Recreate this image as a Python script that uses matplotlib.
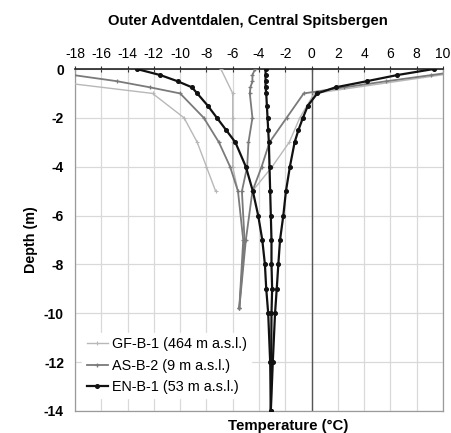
import matplotlib
matplotlib.use("Agg")
import matplotlib.pyplot as plt

plt.rcParams['font.family'] = ['Liberation Sans', 'DejaVu Sans']

# ---- data (temperature in °C, depth in m, negative down) ----
en_depth = [0, -0.25, -0.5, -0.75, -1.0, -1.5, -2.0, -2.5, -3.0, -4, -5, -6, -7, -8, -9, -10, -12, -14]
en_min = [-13.3, -11.5, -10.2, -9.1, -8.7, -7.9, -7.2, -6.5, -5.8, -5.0, -4.47, -4.06, -3.75, -3.55, -3.45, -3.3, -3.15, -3.1]
en_mean = [-3.5, -3.5, -3.5, -3.5, -3.45, -3.4, -3.35, -3.3, -3.25, -3.2, -3.15, -3.1, -3.05, -3.05, -3.0, -3.05, -3.07, -3.1]
en_max = [9.3, 6.5, 4.2, 1.83, 0.43, -0.28, -0.66, -1.0, -1.29, -1.65, -1.95, -2.15, -2.4, -2.53, -2.65, -2.78, -2.95, -3.1]

as_depth = [0, -0.25, -0.5, -0.75, -1.0, -2, -3, -4, -5, -7, -9.8]
as_min = [-21.2, -18.1, -14.8, -12.3, -10.0, -8.2, -7.05, -6.2, -5.6, -5.2, -5.5]
as_mean = [-4.3, -4.5, -4.5, -4.65, -4.7, -4.5, -4.8, -4.9, -5.3, -5.1, -5.5]
as_max = [12.5, 9.1, 5.7, 2.5, -0.6, -1.9, -3.2, -3.8, -4.5, -5.0, -5.5]

gf_depth = [0, -1, -2, -3, -4, -5]
gf_min = [-27.5, -12.1, -9.7, -8.7, -8.0, -7.3]
gf_mean = [-6.9, -6.0, -6.0, -6.0, -6.0, -5.6]
gf_max = [13.0, 0.2, -0.9, -1.7, -3.0, -4.5]

labels = ["GF-B-1 (464 m a.s.l.)", "AS-B-2 (9 m a.s.l.)", "EN-B-1 (53 m a.s.l.)"]
xticks = list(range(-18, 11, 2))
yticks = list(range(-14, 1, 2))

fig = plt.figure(figsize=(4.51, 4.33), dpi=100)
ax = fig.add_axes([75/451, 1-411/433, 368/451, 342/433])

ax.set_xlim(-18, 10)
ax.set_ylim(-14, 0)
ax.set_xticks(xticks)
ax.set_yticks(yticks)
ax.xaxis.tick_top()
ax.grid(True, color='#d9d9d9', lw=0.9)
ax.axvline(0, color='#555555', lw=1.0, zorder=2)

for s in ['left', 'right', 'bottom']:
    ax.spines[s].set_color('#9a9a9a')
    ax.spines[s].set_linewidth(0.9)
ax.spines['top'].set_color('#222222')
ax.spines['top'].set_linewidth(1.2)

ax.tick_params(axis='x', direction='inout', length=5, width=0.8, color='#333333',
               labelsize=10, pad=3)
ax.tick_params(axis='y', length=0, labelsize=10, pad=8)
ax.set_xticklabels([str(v) for v in xticks])
ax.set_yticklabels([str(v) for v in yticks], fontweight='bold')

gf_style = dict(color='#b8b8b8', lw=1.0, marker='+', ms=3.0, mew=0.8, zorder=3)
as_style = dict(color='#7a7a7a', lw=1.3, marker='+', ms=3.5, mew=0.9, zorder=4)
en_style = dict(color='#111111', lw=1.6, marker='o', ms=2.6, zorder=5)

for i, arr in enumerate([gf_min, gf_mean, gf_max]):
    l, = ax.plot(arr, gf_depth, **gf_style)
    if i == 0:
        h_gf = l
for i, arr in enumerate([as_min, as_mean, as_max]):
    l, = ax.plot(arr, as_depth, **as_style)
    if i == 0:
        h_as = l
for i, arr in enumerate([en_min, en_mean, en_max]):
    l, = ax.plot(arr, en_depth, **en_style)
    if i == 0:
        h_en = l

leg = ax.legend([h_gf, h_as, h_en], labels, loc='upper left',
                bbox_to_anchor=(0.02, 0.228), fontsize=10.4, frameon=True,
                facecolor='white', edgecolor='white', framealpha=1, fancybox=False,
                handlelength=1.45, handletextpad=0.28, labelspacing=0.5,
                borderpad=0.3, borderaxespad=0)
leg.set_zorder(10)

fig.text(248/451, 1-21/433, "Outer Adventdalen, Central Spitsbergen",
         ha='center', va='center', fontsize=10.6, fontweight='bold')
ax.set_ylabel("Depth (m)", fontsize=10.3, fontweight='bold', labelpad=4)
fig.text(288/451, 1-426/433, "Temperature (°C)", ha='center', va='center',
         fontsize=10.8, fontweight='bold')

fig.savefig("out.png", dpi=100)
